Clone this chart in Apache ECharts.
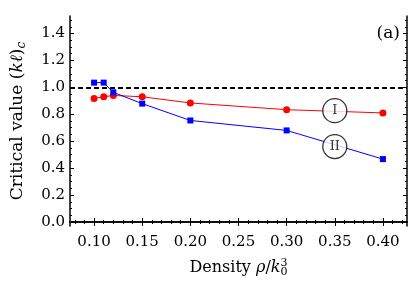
<!DOCTYPE html>
<html><head><meta charset="utf-8">
<script src="https://cdn.jsdelivr.net/npm/echarts@6/dist/echarts.min.js"></script>
<style>html,body{margin:0;padding:0;background:#fff}#c{width:411px;height:291px}</style>
</head><body><div id="c"></div>
<script>
const densities = [0.10, 0.11, 0.12, 0.15, 0.20, 0.30, 0.40];
const seriesI = [0.918, 0.930, 0.940, 0.930, 0.884, 0.834, 0.810];
const seriesII = [1.035, 1.035, 0.963, 0.879, 0.754, 0.680, 0.467];
const labelPoints = [["I", 0.35, 0.827], ["II", 0.35, 0.56]];
const xMajor = [0.10, 0.15, 0.20, 0.25, 0.30, 0.35, 0.40];
const xMinor = [0.08,0.09,0.10,0.11,0.12,0.13,0.14,0.15,0.16,0.17,0.18,0.19,0.20,0.21,0.22,0.23,0.24,0.25,0.26,0.27,0.28,0.29,0.30,0.31,0.32,0.33,0.34,0.35,0.36,0.37,0.38,0.39,0.40,0.41,0.42];
const yMajor = [0.0, 0.2, 0.4, 0.6, 0.8, 1.0, 1.2, 1.4];
const yMinor = [0,0.05,0.1,0.15,0.2,0.25,0.3,0.35,0.4,0.45,0.5,0.55,0.6,0.65,0.7,0.75,0.8,0.85,0.9,0.95,1.0,1.05,1.1,1.15,1.2,1.25,1.3,1.35,1.4,1.45,1.5];
const threshold = 1.0;

const FONT = 'DejaVu Serif';
const chart = echarts.init(document.getElementById('c'));
const xr = {min: 0.075, max: 0.425}, yr = {min: -0.03, max: 1.53};
function xAx(pos, major, showLabel, name) {
  return {
    type: 'value', position: pos, ...xr,
    axisLine: {show: major, lineStyle: {color: '#000', width: 1.5}},
    splitLine: {show: false},
    axisTick: {inside: true, length: major ? 4 : 2, customValues: major ? xMajor : xMinor, lineStyle: {color: '#000', width: 1}},
    axisLabel: {show: showLabel, customValues: xMajor, formatter: v => v.toFixed(2), fontFamily: FONT, fontSize: 15, color: '#000', margin: 9},
    name: name || '', nameLocation: 'middle', nameGap: 32,
    nameTextStyle: {fontFamily: FONT, fontSize: 16, color: '#000',
      rich: {n: {fontFamily: FONT, fontSize: 16, color: '#000'}, i: {fontFamily: FONT, fontStyle: 'italic', fontSize: 16, color: '#000'},
             sub: {fontFamily: FONT, fontSize: 11, color: '#000', padding: [9, 0, 0, 0]},
             sup: {fontFamily: FONT, fontSize: 11, color: '#000', padding: [0, 0, 9, -7]}}}
  };
}
function yAx(pos, major, showLabel, name) {
  return {
    type: 'value', position: pos, ...yr,
    axisLine: {show: major, lineStyle: {color: '#000', width: 1.5}},
    splitLine: {show: false},
    axisTick: {inside: true, length: major ? 4 : 2, customValues: major ? yMajor : yMinor, lineStyle: {color: '#000', width: 1}},
    axisLabel: {show: showLabel, customValues: yMajor, formatter: v => v.toFixed(1), fontFamily: FONT, fontSize: 15, color: '#000', margin: 5},
    name: name || '', nameLocation: 'middle', nameGap: 42,
    nameTextStyle: {fontFamily: FONT, fontSize: 17, color: '#000',
      rich: {n: {fontFamily: FONT, fontSize: 17, color: '#000'}, i: {fontFamily: FONT, fontStyle: 'italic', fontSize: 17, color: '#000'},
             sub: {fontFamily: FONT, fontStyle: 'italic', fontSize: 12, color: '#000', padding: [9, 0, 0, 0]}}}
  };
}
chart.setOption({
  animation: false,
  backgroundColor: '#fff',
  grid: {left: 70, top: 16, right: 4, bottom: 65},
  xAxis: [
    xAx('bottom', true, true, '{n|Density }{i|ρ}{n|/}{i|k}{sub|0}{sup|3}'),
    xAx('bottom', false, false),
    xAx('top', true, false),
    xAx('top', false, false)
  ],
  yAxis: [
    yAx('left', true, true, '{n|Critical value (}{i|kℓ}{n|)}{sub|c}'),
    yAx('left', false, false),
    yAx('right', true, false),
    yAx('right', false, false)
  ],
  graphic: [{type: 'text', right: 11, top: 25, style: {text: '(a)', font: '17px "DejaVu Serif"', fill: '#000'}}],
  series: [
    {type: 'line', data: densities.map((d, i) => [d, seriesI[i]]), symbol: 'circle', symbolSize: 7,
     itemStyle: {color: '#ff0000'}, lineStyle: {color: '#ff0000', width: 1},
     markLine: {silent: true, symbol: 'none', label: {show: false}, lineStyle: {color: '#000', type: [5, 3], width: 2}, data: [{yAxis: threshold}]}},
    {type: 'line', data: densities.map((d, i) => [d, seriesII[i]]), symbol: 'rect', symbolSize: 6,
     itemStyle: {color: '#0000ff'}, lineStyle: {color: '#0000ff', width: 1}},
    {type: 'scatter', data: labelPoints.map(p => ({value: [p[1], p[2]], name: p[0]})), symbol: 'circle', symbolSize: 24,
     itemStyle: {color: '#fff', borderColor: '#000', borderWidth: 1.3}, z: 5,
     label: {show: true, position: 'inside', formatter: p => p.name, fontFamily: FONT, fontSize: 13, color: '#000'}}
  ]
});
</script></body></html>
